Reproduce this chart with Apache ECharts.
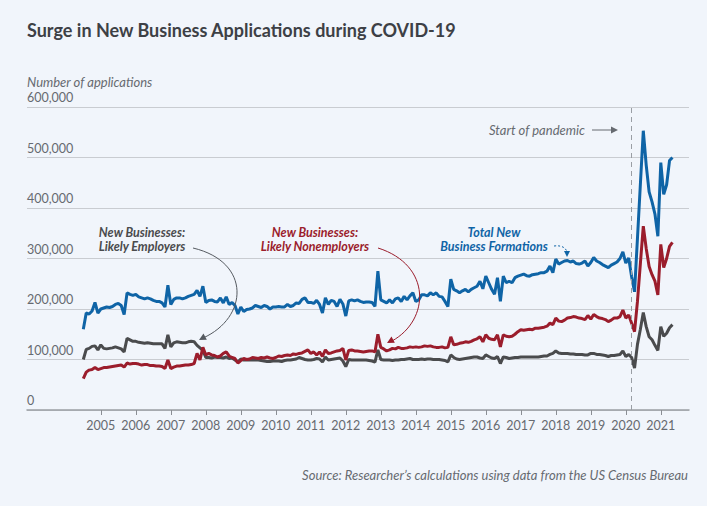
<!DOCTYPE html>
<html>
<head>
<meta charset="utf-8">
<script src="https://cdn.jsdelivr.net/npm/echarts@6/dist/echarts.min.js"></script>
<style>
  html, body { margin: 0; padding: 0; background: #f1f5fb; }
  #chart { width: 707px; height: 506px; }
</style>
</head>
<body>
<div id="chart"></div>
<script>
// Monthly data, July 2004 – May 2021 (thousands of applications)
const startYear = 2004, startMonth = 7;
const totalFormations = [
  160,192,190,196,213,192,
  200,202,204,203,205,209,211,207,189,232,229,227,
  229,224,222,220,222,220,217,215,215,212,204,247,
  209,219,222,222,220,222,225,227,229,237,225,245,
  213,217,218,215,214,222,212,224,209,213,207,190,
  204,195,199,200,202,207,205,203,207,205,200,204,
  204,205,204,204,209,205,207,212,211,219,222,213,
  213,211,217,209,192,222,209,217,215,205,219,210,
  186,216,218,216,218,215,213,214,214,213,205,275,
  218,215,212,218,212,220,222,215,225,218,226,232,
  215,218,228,228,226,232,228,232,225,224,215,205,
  259,239,236,232,236,239,234,239,242,245,255,240,
  265,252,239,229,262,215,265,252,255,252,262,265,
  267,269,266,265,268,269,270,272,272,275,285,272,
  299,289,292,295,296,293,295,290,289,291,295,285,
  292,302,295,292,288,285,282,287,290,293,300,313,
  291,301,264,234,340,447,553,485,432,412,388,344,
  490,427,446,494,500
];
const likelyNonemployers = [
  62,75,79,80,84,80,
  82,84,84,85,86,87,88,89,85,93,91,92,
  92,91,89,90,90,88,88,87,87,86,82,99,
  82,85,87,87,88,89,89,90,92,112,99,124,
  109,112,109,108,105,107,112,115,107,104,102,93,
  98,102,100,101,104,103,102,104,103,105,103,102,
  104,107,106,108,109,108,111,110,112,113,116,119,
  112,115,109,115,106,119,112,113,115,117,118,122,
  99,118,119,117,117,116,115,116,117,117,115,150,
  124,121,117,119,122,121,124,122,122,123,125,124,
  125,124,125,127,126,127,125,124,124,125,123,124,
  145,129,130,132,133,135,134,136,139,141,145,135,
  149,142,140,139,149,125,149,146,145,146,150,155,
  159,158,159,160,159,162,162,163,164,166,172,169,
  182,176,175,178,182,183,185,184,182,181,179,187,
  180,189,185,182,181,179,175,178,182,182,185,198,
  182,188,172,155,215,290,364,320,284,268,255,228,
  328,282,300,324,332
];
const likelyEmployers = [
  100,120,122,126,127,119,
  129,122,121,122,123,125,123,121,115,142,139,136,
  136,134,133,132,133,132,131,131,131,131,122,149,
  125,133,135,134,133,133,135,136,135,128,123,118,
  104,104,103,105,104,104,103,105,102,103,99,95,
  101,99,99,99,99,99,99,98,97,96,96,97,
  97,97,96,98,99,99,100,101,104,102,100,99,
  99,100,102,101,95,105,99,100,101,102,103,97,
  86,100,99,99,99,99,99,99,98,97,95,119,
  100,99,99,99,98,99,99,100,100,101,102,100,
  100,100,101,100,101,101,100,100,100,99,98,95,
  109,104,101,100,101,102,103,104,105,105,103,102,
  109,106,103,102,106,92,105,104,102,103,104,104,
  105,105,105,105,105,105,105,106,107,107,110,112,
  117,113,112,112,112,111,111,110,110,110,109,109,
  112,112,110,110,109,108,106,108,108,109,110,117,
  106,110,104,83,130,160,193,165,145,139,128,118,
  165,146,152,163,169
];
const tickYears = [2005,2006,2007,2008,2009,2010,2011,2012,2013,2014,2015,2016,2017,2018,2019,2020,2021];
const pandemicStart = 2020 + 2/12; // March 2020

const monthPos = totalFormations.map((_, i) => startYear + (startMonth - 1) / 12 + i / 12);
const pairs = arr => arr.map((v, i) => [monthPos[i], v]);

const FONT = 'Lato';
const BLUE = '#0f64a6', RED = '#9b1d2c', GRAY = '#4a4b4d', TXT = '#666a70';

function arrowHead(tipX, tipY, fromX, fromY, size, color) {
  const dx = tipX - fromX, dy = tipY - fromY, len = Math.hypot(dx, dy);
  const ux = dx / len, uy = dy / len, px = -uy, py = ux;
  const bx = tipX - ux * size, by = tipY - uy * size;
  return { type: 'polygon', silent: true, z: 100,
    shape: { points: [[tipX, tipY], [bx + px * size * 0.5, by + py * size * 0.5], [bx - px * size * 0.5, by - py * size * 0.5]] },
    style: { fill: color } };
}
function curve(x1, y1, c1x, c1y, c2x, c2y, x2, y2, color, dash) {
  return { type: 'bezierCurve', silent: true, z: 100,
    shape: { x1, y1, cpx1: c1x, cpy1: c1y, cpx2: c2x, cpy2: c2y, x2, y2 },
    style: { stroke: color, lineWidth: 1, fill: null, lineDash: dash || null } };
}
function txt(x, y, text, opts) {
  return { type: 'text', silent: true, z: 100, x, y,
    style: Object.assign({ text, fontFamily: FONT, fontSize: 13, fill: TXT,
      textAlign: 'left', textVerticalAlign: 'middle' }, opts) };
}
const annot = (x, y, text, color) => txt(x, y, text, { fontStyle: 'italic', fontWeight: 'bold',
  fill: color, textAlign: 'center', fontSize: 12.5, lineHeight: 12 });

const chart = echarts.init(document.getElementById('chart'), null, { renderer: 'svg' });
chart.setOption({
  backgroundColor: '#f1f5fb',
  animation: false,
  grid: { left: 27, right: 18, top: 107, bottom: 96, containLabel: false, outerBoundsMode: 'none' },
  xAxis: {
    type: 'value', min: 2002.891, max: 2021.806,
    axisLine: { show: true, onZero: false, lineStyle: { color: '#9a9ea4', width: 1.5 } },
    axisTick: { show: true, customValues: tickYears, length: 5, lineStyle: { color: '#8a8e94' } },
    axisLabel: { show: true, customValues: tickYears, formatter: v => String(Math.round(v)),
      fontFamily: FONT, fontSize: 12.5, color: TXT, margin: 9 },
    splitLine: { show: false }
  },
  yAxis: {
    type: 'value', min: 0, max: 600, interval: 100,
    axisLine: { show: false }, axisTick: { show: false },
    axisLabel: { inside: true, margin: 0, align: 'left', verticalAlign: 'bottom',
      padding: [0, 0, 3, 0], fontFamily: FONT, fontSize: 12.5, color: TXT,
      formatter: v => (v * 1000).toLocaleString('en-US') },
    splitLine: { show: true, lineStyle: { color: '#c9ccd1', width: 1 } }
  },
  series: [
    { name: 'New Businesses: Likely Employers', type: 'line', data: pairs(likelyEmployers),
      showSymbol: false, lineStyle: { color: GRAY, width: 3 }, itemStyle: { color: GRAY }, z: 2 },
    { name: 'New Businesses: Likely Nonemployers', type: 'line', data: pairs(likelyNonemployers),
      showSymbol: false, lineStyle: { color: RED, width: 3 }, itemStyle: { color: RED }, z: 3 },
    { name: 'Total New Business Formations', type: 'line', data: pairs(totalFormations),
      showSymbol: false, lineStyle: { color: BLUE, width: 3 }, itemStyle: { color: BLUE }, z: 4,
      markLine: { silent: true, symbol: 'none', label: { show: false },
        lineStyle: { color: '#9a9ea4', type: [5, 4], width: 1 },
        data: [{ xAxis: pandemicStart }] } }
  ],
  graphic: [
    txt(27, 30, 'Surge in New Business Applications during COVID-19',
      { fontSize: 18, fontWeight: 'bold', fill: '#3d4045' }),
    txt(27, 82, 'Number of applications', { fontStyle: 'italic', fontSize: 13 }),
    annot(142, 232.5, 'New Businesses:', GRAY),
    annot(142, 246.5, 'Likely Employers', GRAY),
    annot(315, 232.5, 'New Businesses:', RED),
    annot(315, 246.5, 'Likely Nonemployers', RED),
    annot(494, 232.5, 'Total New', BLUE),
    annot(494, 246.5, 'Business Formations', BLUE),
    txt(489, 130, 'Start of pandemic', { fontStyle: 'italic', fontSize: 13 }),
    txt(688, 475, 'Source: Researcher\u2019s calculations using data from the US Census Bureau',
      { fontStyle: 'italic', fontSize: 13, textAlign: 'right' }),
    // arrows
    curve(193, 248, 252, 262, 248, 318, 203, 338, '#555a60'),
    arrowHead(199, 340, 210, 334, 7, '#555a60'),
    curve(378, 248, 432, 265, 430, 320, 392, 341, RED),
    arrowHead(387, 343, 398, 337, 7, RED),
    curve(554, 246, 562, 245, 566, 248, 567, 252, BLUE, [2, 2]),
    arrowHead(567, 257, 567, 250, 6, BLUE),
    { type: 'line', silent: true, z: 100, shape: { x1: 592, y1: 130, x2: 612, y2: 130 },
      style: { stroke: '#666a70', lineWidth: 1 } },
    arrowHead(618, 130, 610, 130, 7, '#666a70')
  ]
});
</script>
</body>
</html>
